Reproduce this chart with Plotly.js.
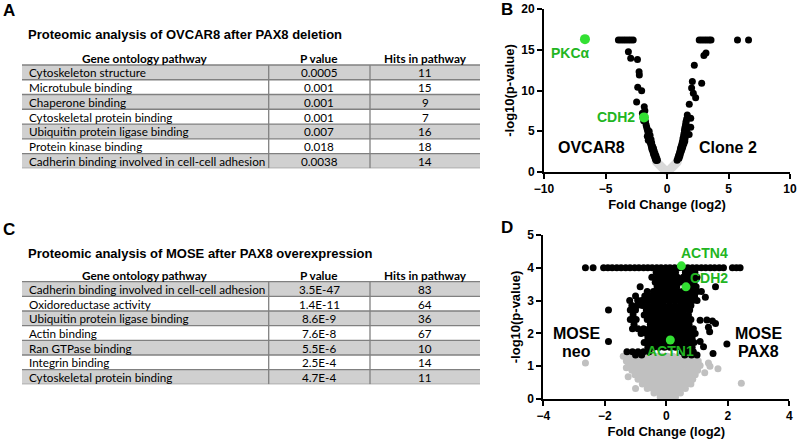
<!DOCTYPE html>
<html><head><meta charset="utf-8">
<script src="https://cdn.plot.ly/plotly-3.0.1.min.js"></script>
<style>html,body{margin:0;padding:0;background:#fff}#chart{width:800px;height:442px}</style>
</head><body><div id="chart"></div>
<script>
// ---------- Table A data ----------
const tableATitle = "Proteomic analysis of OVCAR8 after PAX8 deletion";
const tableAHeaders = ["Gene ontology pathway", "P value", "Hits in pathway"];
const tableAPathways = ["Cytoskeleton structure","Microtubule binding","Chaperone binding","Cytoskeletal protein binding","Ubiquitin protein ligase binding","Protein kinase binding","Cadherin binding involved in cell-cell adhesion"];
const tableAPvalues = ["0.0005","0.001","0.001","0.001","0.007","0.018","0.0038"];
const tableAHits = [11,15,9,7,16,18,14];

// ---------- Table C data ----------
const tableCTitle = "Proteomic analysis of MOSE after PAX8 overexpression";
const tableCHeaders = ["Gene ontology pathway", "P value", "Hits in pathway"];
const tableCPathways = ["Cadherin binding involved in cell-cell adhesion","Oxidoreductase activity","Ubiquitin protein ligase binding","Actin binding","Ran GTPase binding","Integrin binding","Cytoskeletal protein binding"];
const tableCPvalues = ["3.5E-47","1.4E-11","8.6E-9","7.6E-8","5.5E-6","2.5E-4","4.7E-4"];
const tableCHits = [83,64,36,67,10,14,11];

// ---------- Panel B volcano (OVCAR8 vs Clone 2) ----------
const bGrayX = [-0.95,-0.85,-0.75,-0.65,-0.55,-0.45,-0.35,-0.25,-0.15,-0.05,0.05,0.15,0.25,0.35,0.45,0.55,0.65,0.75,0.85,0.92,
  -0.8,-0.7,-0.6,-0.5,-0.4,-0.3,-0.2,-0.1,0.0,0.1,0.2,0.3,0.4,0.5,0.6,0.7,0.8,0.0];
const bGrayY = [1.25,1.1,0.95,0.8,0.65,0.5,0.38,0.27,0.18,0.12,0.12,0.18,0.27,0.38,0.5,0.65,0.8,0.95,1.1,1.25,
  1.3,1.15,1.0,0.85,0.7,0.55,0.4,0.3,0.25,0.3,0.4,0.55,0.7,0.85,1.0,1.15,1.3,0.05];
const bBlackX = [-3.95,-3.75,-3.55,-3.35,-3.15,-2.95,-2.75, 2.62,2.82,3.02,3.22,3.42,3.58, 5.73,6.63,
  -3.14,-2.95,-2.4,-2.27,-2.25,-2.38,-2.06,-2.47,-1.85,-1.8,-2.0,
  -1.75,-1.7,-1.65,-1.6,-1.55,-1.5,-1.47,-1.42,-1.38,-1.32,-1.27,-1.22,-1.15,-1.1,-1.02,-0.95,-0.88,
  -1.45,-1.38,-1.3,-1.25,-1.18,-1.1,-1.05,-0.98,-0.9,-0.83,-0.78,-1.6,-1.52,-1.9,
  3.17,3.0,2.22,2.06,2.82,2.0,2.14,2.33,1.81,1.65,1.93,1.54,1.93,1.46,1.8,1.33,1.11,0.92,
  1.6,1.55,1.5,1.45,1.42,1.38,1.35,1.3,1.25,1.2,1.15,1.08,1.02,0.96,0.88,0.82,
  1.6,1.48,1.45,1.38,1.3,1.25,1.18,1.1,1.05,0.98];
const bBlackY = [16.2,16.2,16.2,16.2,16.2,16.2,16.2, 16.2,16.2,16.2,16.2,16.2,16.2, 16.2,16.2,
  14.76,13.95,13.8,12.3,11.9,10.4,9.98,8.6,8.0,7.5,7.2,
  6.2,5.8,5.5,5.2,4.9,4.6,4.3,4.0,3.7,3.4,3.1,2.8,2.5,2.2,1.9,1.6,1.4,
  5.0,4.5,4.0,3.6,3.2,2.9,2.6,2.3,2.0,1.7,1.45,4.4,3.9,6.3,
  14.6,14.3,13.1,11.1,10.9,10.3,9.66,9.1,8.3,7.0,6.6,5.97,5.5,4.94,4.6,3.93,2.9,1.88,
  6.5,6.2,5.7,5.4,5.1,4.7,4.4,4.1,3.7,3.4,3.1,2.7,2.4,2.1,1.7,1.45,
  5.2,4.2,3.8,3.5,3.2,2.9,2.6,2.3,2.0,1.7];
const bGreenX = [-6.67,-1.87];
const bGreenY = [16.3,6.7];
const bGreenLabels = ["PKCα","CDH2"];

// ---------- Panel D volcano (MOSE neo vs MOSE PAX8) ----------
const dGrayX = [-1.4,-1.22,-1.04,-0.86,-0.68,-0.5,-0.32,-0.14,0.04,0.22,0.4,0.58,0.76,0.94,
  -1.3,-1.12,-0.94,-0.76,-0.58,-0.4,-0.22,-0.04,0.14,0.32,0.5,0.68,0.86,1.04,1.37,
  -1.23,-1.05,-0.87,-0.69,-0.51,-0.33,-0.15,0.03,0.21,0.39,0.57,0.75,0.93,1.1,1.42,
  -1.12,-0.94,-0.76,-0.58,-0.4,-0.22,-0.04,0.14,0.32,0.5,0.68,0.86,1.02,1.68,
  -1.02,-0.84,-0.66,-0.48,-0.3,-0.12,0.06,0.24,0.42,0.6,0.78,0.94,
  -0.92,-0.74,-0.56,-0.38,-0.2,-0.02,0.16,0.34,0.52,0.7,0.86,
  -0.78,-0.6,-0.42,-0.24,-0.06,0.12,0.3,0.48,0.66,0.8,2.44,
  -1.0,-0.62,-0.44,-0.26,-0.08,0.1,0.28,0.46,0.62,
  -0.4,-0.22,-0.04,0.14,0.32,0.46,
  -0.2,-0.02,0.16,0.3,
  -2.63,-1.24,1.25,-1.3];
const dGrayY = [1.3,1.3,1.3,1.3,1.3,1.3,1.3,1.3,1.3,1.3,1.3,1.3,1.3,1.3,
  1.16,1.16,1.16,1.16,1.16,1.16,1.16,1.16,1.16,1.16,1.16,1.16,1.16,1.16,1.1,
  1.02,1.02,1.02,1.02,1.02,1.02,1.02,1.02,1.02,1.02,1.02,1.02,1.02,1.02,1.0,
  0.88,0.88,0.88,0.88,0.88,0.88,0.88,0.88,0.88,0.88,0.88,0.88,0.88,0.92,
  0.74,0.74,0.74,0.74,0.74,0.74,0.74,0.74,0.74,0.74,0.74,0.74,
  0.6,0.6,0.6,0.6,0.6,0.6,0.6,0.6,0.6,0.6,0.6,
  0.46,0.46,0.46,0.46,0.46,0.46,0.46,0.46,0.46,0.46,0.48,
  0.32,0.32,0.32,0.32,0.32,0.32,0.32,0.32,0.32,
  0.18,0.18,0.18,0.18,0.18,0.18,
  0.06,0.06,0.06,0.06,
  1.1,0.68,0.8,0.95];
const dBlackX = [-2.63,-2.38,-2.04,-1.9,-1.76,-1.61,-1.47,-1.32,-1.18,-1.03,-0.89,-0.74,-0.6,-0.46,-0.31,-0.17,-0.02,0.12,0.27,0.41,0.56,0.7,0.85,0.99,1.14,1.28,1.43,1.57,1.72,1.86,2.15,2.28,2.4,
  -0.33,-0.18,-0.02,0.14,0.3,0.62,0.78,0.93,
  -0.47,-0.28,-0.12,0.03,0.2,0.36,0.55,0.72,0.88,1.0,
  -0.36,-0.2,-0.04,0.12,0.28,0.44,0.58,0.74,0.9,
  -0.85,-0.3,-0.14,0.02,0.18,0.34,0.82,0.97,1.6,
  -0.62,-0.42,-0.26,-0.1,0.06,0.22,0.38,0.52,0.68,0.84,1.0,1.14,
  -1.0,-0.7,-0.52,-0.36,-0.2,-0.04,0.12,0.28,0.44,0.6,0.76,0.92,1.27,
  -1.19,-0.93,-0.8,-0.65,-0.5,-0.35,-0.2,-0.05,0.1,0.25,0.4,0.55,0.7,0.85,1.0,
  -1.12,-0.95,-0.78,-0.6,-0.42,-0.25,-0.08,0.1,0.28,0.46,0.64,0.8,
  -1.88,-1.17,-1.0,-0.65,-0.47,-0.3,-0.12,0.05,0.23,0.41,0.59,0.76,
  -1.08,-0.72,-0.54,-0.36,-0.18,0.0,0.18,0.36,0.54,0.72,
  -1.17,-0.98,-0.62,-0.44,-0.26,-0.08,0.1,0.28,0.46,0.64,0.8,1.1,1.32,1.5,
  -1.05,-0.52,-0.34,-0.16,0.02,0.2,0.38,0.56,0.74,1.6,
  -1.1,-0.92,-0.74,-0.56,-0.38,-0.2,-0.02,0.16,0.34,0.52,0.7,0.88,1.37,
  -0.82,-0.64,-0.46,-0.28,-0.1,0.08,0.26,0.44,0.62,0.8,0.94,1.41,
  -0.6,-0.42,-0.24,-0.06,0.12,0.3,0.48,0.66,0.84,
  -1.88,-0.72,-0.54,-0.36,-0.18,0.0,0.18,0.36,0.54,0.72,0.9,1.1,1.97,
  -0.6,-0.42,-0.24,-0.06,0.12,0.3,0.48,0.66,0.84,1.21,
  -1.28,-1.1,-0.92,-0.74,-0.56,0.52,0.7,0.88,1.52,
  -1.0,-0.8,0.6,0.82,1.0];
const dBlackY = [4,4,4,4,4,4,4,4,4,4,4,4,4,4,4,4,4,4,4,4,4,4,4,4,4,4,4,4,4,4,4,4,4,
  3.86,3.86,3.86,3.86,3.86,3.86,3.86,3.86,
  3.71,3.71,3.71,3.71,3.71,3.71,3.71,3.71,3.71,3.71,
  3.56,3.56,3.56,3.56,3.56,3.56,3.56,3.56,3.56,
  3.42,3.42,3.42,3.42,3.42,3.42,3.42,3.42,3.42,
  3.28,3.28,3.28,3.28,3.28,3.28,3.28,3.28,3.28,3.28,3.28,3.28,
  3.14,3.14,3.14,3.14,3.14,3.14,3.14,3.14,3.14,3.14,3.14,3.14,3.1,
  3,3,3,3,3,3,3,3,3,3,3,3,3,3,3,
  2.85,2.85,2.85,2.85,2.85,2.85,2.85,2.85,2.85,2.85,2.85,2.85,
  2.71,2.71,2.71,2.71,2.71,2.71,2.71,2.71,2.71,2.71,2.71,2.71,
  2.56,2.56,2.56,2.56,2.56,2.56,2.56,2.56,2.56,2.56,
  2.42,2.42,2.42,2.42,2.42,2.42,2.42,2.42,2.42,2.42,2.42,2.4,2.41,2.38,
  2.28,2.28,2.28,2.28,2.28,2.28,2.28,2.28,2.28,2.3,
  2.14,2.14,2.14,2.14,2.14,2.14,2.14,2.14,2.14,2.14,2.14,2.14,2.19,
  2.0,2.0,2.0,2.0,2.0,2.0,2.0,2.0,2.0,2.0,2.0,2.05,
  1.86,1.86,1.86,1.86,1.86,1.86,1.86,1.86,1.86,
  1.75,1.72,1.72,1.72,1.72,1.72,1.72,1.72,1.72,1.72,1.72,1.75,1.68,
  1.58,1.58,1.58,1.58,1.58,1.58,1.58,1.58,1.58,1.59,
  1.44,1.44,1.44,1.44,1.44,1.44,1.44,1.44,1.39,
  1.34,1.34,1.34,1.34,1.34];
const dGreenX = [0.49,0.64,0.13];
const dGreenY = [4.06,3.42,1.8];
const dGreenLabels = ["ACTN4","CDH2","ACTN1"];

// ---------- styling ----------
const ARIAL = "Liberation Sans, Arial, sans-serif";
const TFONT = "Lato, Carlito, Calibri, sans-serif";
const GRAY_ROW = "#d0d0d0";
const RULE = "#808080";
const GREEN_MK = "#33e033", GREEN_TX = "#22b522";
const COL_EDGES = [0, 246.7, 348, 458];   // table column boundaries (table-axis units = px)

const shapes = [];
const annotations = [];

function ann(text, x, y, xref, yref, size, color, xanchor, family, weight){
  return {text:text, x:x, y:y, xref:xref, yref:yref, showarrow:false,
    xanchor:xanchor||"center", yanchor:"middle",
    font:{family:family||ARIAL, size:size, color:color, weight:weight||"bold"}};
}

// table drawn on its own hidden axes: x = px across the table, y = row index (header = -1..0)
function buildTable(xa, ya, headers, c1, c2, c3){
  const n = c1.length;
  for (let i = 0; i < n; i++) {
    if (i % 2 === 0) shapes.push({type:"rect", xref:xa, yref:ya, x0:COL_EDGES[0], x1:COL_EDGES[3],
      y0:i, y1:i+1, fillcolor:GRAY_ROW, line:{width:0}, layer:"below"});
  }
  for (let i = 0; i <= n; i++) {
    shapes.push({type:"line", xref:xa, yref:ya, x0:COL_EDGES[0], x1:COL_EDGES[3], y0:i, y1:i,
      line:{color:RULE, width:1.3}});
  }
  [COL_EDGES[1], COL_EDGES[2]].forEach(cx => shapes.push({type:"line", xref:xa, yref:ya,
    x0:cx, x1:cx, y0:0, y1:n, line:{color:RULE, width:1.3}}));
  const hx = [(COL_EDGES[0]+COL_EDGES[1])/2, (COL_EDGES[1]+COL_EDGES[2])/2, (COL_EDGES[2]+COL_EDGES[3])/2];
  headers.forEach((h, j) => annotations.push(ann(h, hx[j], -0.45, xa, ya, 11.8, "#000", "center", TFONT, "bold")));
  for (let i = 0; i < n; i++) {
    annotations.push(
      ann(c1[i], 5, i+0.5, xa, ya, 11.7, "#000", "left", TFONT, "normal"),
      ann(String(c2[i]), hx[1], i+0.5, xa, ya, 11.7, "#000", "center", TFONT, "normal"),
      ann(String(c3[i]), hx[2], i+0.5, xa, ya, 11.7, "#000", "center", TFONT, "normal"));
  }
}
buildTable("x3", "y3", tableAHeaders, tableAPathways, tableAPvalues, tableAHits);
buildTable("x4", "y4", tableCHeaders, tableCPathways, tableCPvalues, tableCHits);

const traces = [
  {type:"scatter", mode:"markers", x:bGrayX, y:bGrayY, xaxis:"x", yaxis:"y",
   marker:{color:"#d9d9d9", size:7}, hoverinfo:"skip", cliponaxis:false},
  {type:"scatter", mode:"markers", x:bBlackX, y:bBlackY, xaxis:"x", yaxis:"y",
   marker:{color:"#000", size:7}, hoverinfo:"skip", cliponaxis:false},
  {type:"scatter", mode:"markers", x:bGreenX, y:bGreenY, xaxis:"x", yaxis:"y",
   marker:{color:GREEN_MK, size:10}, text:bGreenLabels, hoverinfo:"skip", cliponaxis:false},
  {type:"scatter", mode:"markers", x:dGrayX, y:dGrayY, xaxis:"x2", yaxis:"y2",
   marker:{color:"#c0c0c0", size:7}, hoverinfo:"skip", cliponaxis:false},
  {type:"scatter", mode:"markers", x:dBlackX, y:dBlackY, xaxis:"x2", yaxis:"y2",
   marker:{color:"#000", size:7}, hoverinfo:"skip", cliponaxis:false},
  {type:"scatter", mode:"markers", x:dGreenX, y:dGreenY, xaxis:"x2", yaxis:"y2",
   marker:{color:GREEN_MK, size:9}, text:dGreenLabels, hoverinfo:"skip", cliponaxis:false},
  // empty carriers so the hidden table axes exist
  {type:"scatter", mode:"markers", x:[], y:[], xaxis:"x3", yaxis:"y3", hoverinfo:"skip"},
  {type:"scatter", mode:"markers", x:[], y:[], xaxis:"x4", yaxis:"y4", hoverinfo:"skip"}
];

const axBase = {
  showline:true, linecolor:"#000", linewidth:2, mirror:false,
  ticks:"outside", ticklen:5, tickwidth:2, tickcolor:"#000",
  showgrid:false, zeroline:false,
  tickfont:{family:ARIAL, size:12, color:"#000", weight:"bold"}
};
const axTitle = (t) => ({text:t, font:{family:ARIAL, size:13, color:"#000", weight:"bold"}, standoff:4});
const hiddenAx = {visible:false, showgrid:false, zeroline:false, fixedrange:true};

annotations.push(
  ann("A", 9/800, 1-10.8/442, "paper","paper", 17, "#000"),
  ann("B", 507/800, 1-9.7/442, "paper","paper", 17, "#000"),
  ann("C", 9/800, 1-229.2/442, "paper","paper", 17, "#000"),
  ann("D", 507/800, 1-227.2/442, "paper","paper", 17, "#000"),
  ann(tableATitle, 26/800, 1-35/442, "paper","paper", 13, "#000", "left"),
  ann(tableCTitle, 26/800, 1-253.3/442, "paper","paper", 13, "#000", "left"),
  ann("OVCAR8", -6.12, 2.98, "x","y", 16, "#000"),
  ann("Clone 2", 4.98, 2.98, "x","y", 16, "#000"),
  ann(bGreenLabels[0], -7.83, 14.56, "x","y", 14, GREEN_TX),
  ann(bGreenLabels[1], -4.15, 6.79, "x","y", 14, GREEN_TX),
  ann("MOSE", -2.93, 2.0, "x2","y2", 16, "#000"),
  ann("neo", -2.93, 1.44, "x2","y2", 16, "#000"),
  ann("MOSE", 3.0, 2.0, "x2","y2", 16, "#000"),
  ann("PAX8", 3.0, 1.44, "x2","y2", 16, "#000"),
  ann(dGreenLabels[0], 1.24, 4.44, "x2","y2", 14, GREEN_TX),
  ann(dGreenLabels[1], 1.38, 3.68, "x2","y2", 14, GREEN_TX),
  ann(dGreenLabels[2], 0.15, 1.46, "x2","y2", 14, GREEN_TX)
);

const layout = {
  width:800, height:442, margin:{l:0,r:0,t:0,b:0},
  paper_bgcolor:"#fff", plot_bgcolor:"rgba(0,0,0,0)", showlegend:false,
  xaxis: Object.assign({}, axBase, {domain:[544/800, 790/800], range:[-10,10], anchor:"y",
    tickvals:[-10,-5,0,5,10], title:axTitle("Fold Change (log2)")}),
  yaxis: Object.assign({}, axBase, {domain:[1-172/442, 1-9/442], range:[0,20], anchor:"x",
    tickvals:[0,5,10,15,20], title:axTitle("-log10(p-value)")}),
  xaxis2: Object.assign({}, axBase, {domain:[543.3/800, 789.3/800], range:[-4,4], anchor:"y2",
    tickvals:[-4,-2,0,2,4], title:axTitle("Fold Change (log2)")}),
  yaxis2: Object.assign({}, axBase, {domain:[1-399/442, 1-235/442], range:[0,5], anchor:"x2",
    tickvals:[0,1,2,3,4,5], title:axTitle("-log10(p-value)")}),
  xaxis3: Object.assign({}, hiddenAx, {domain:[22/800, 480/800], range:[0,458], anchor:"y3"}),
  yaxis3: Object.assign({}, hiddenAx, {domain:[1-168.3/442, 1-50.24/442], range:[7,-1], anchor:"x3"}),
  xaxis4: Object.assign({}, hiddenAx, {domain:[22/800, 480/800], range:[0,458], anchor:"y4"}),
  yaxis4: Object.assign({}, hiddenAx, {domain:[1-384.3/442, 1-267.04/442], range:[7,-1], anchor:"x4"}),
  shapes: shapes,
  annotations: annotations
};

Plotly.newPlot("chart", traces, layout, {displayModeBar:false, staticPlot:true});
</script></body></html>
